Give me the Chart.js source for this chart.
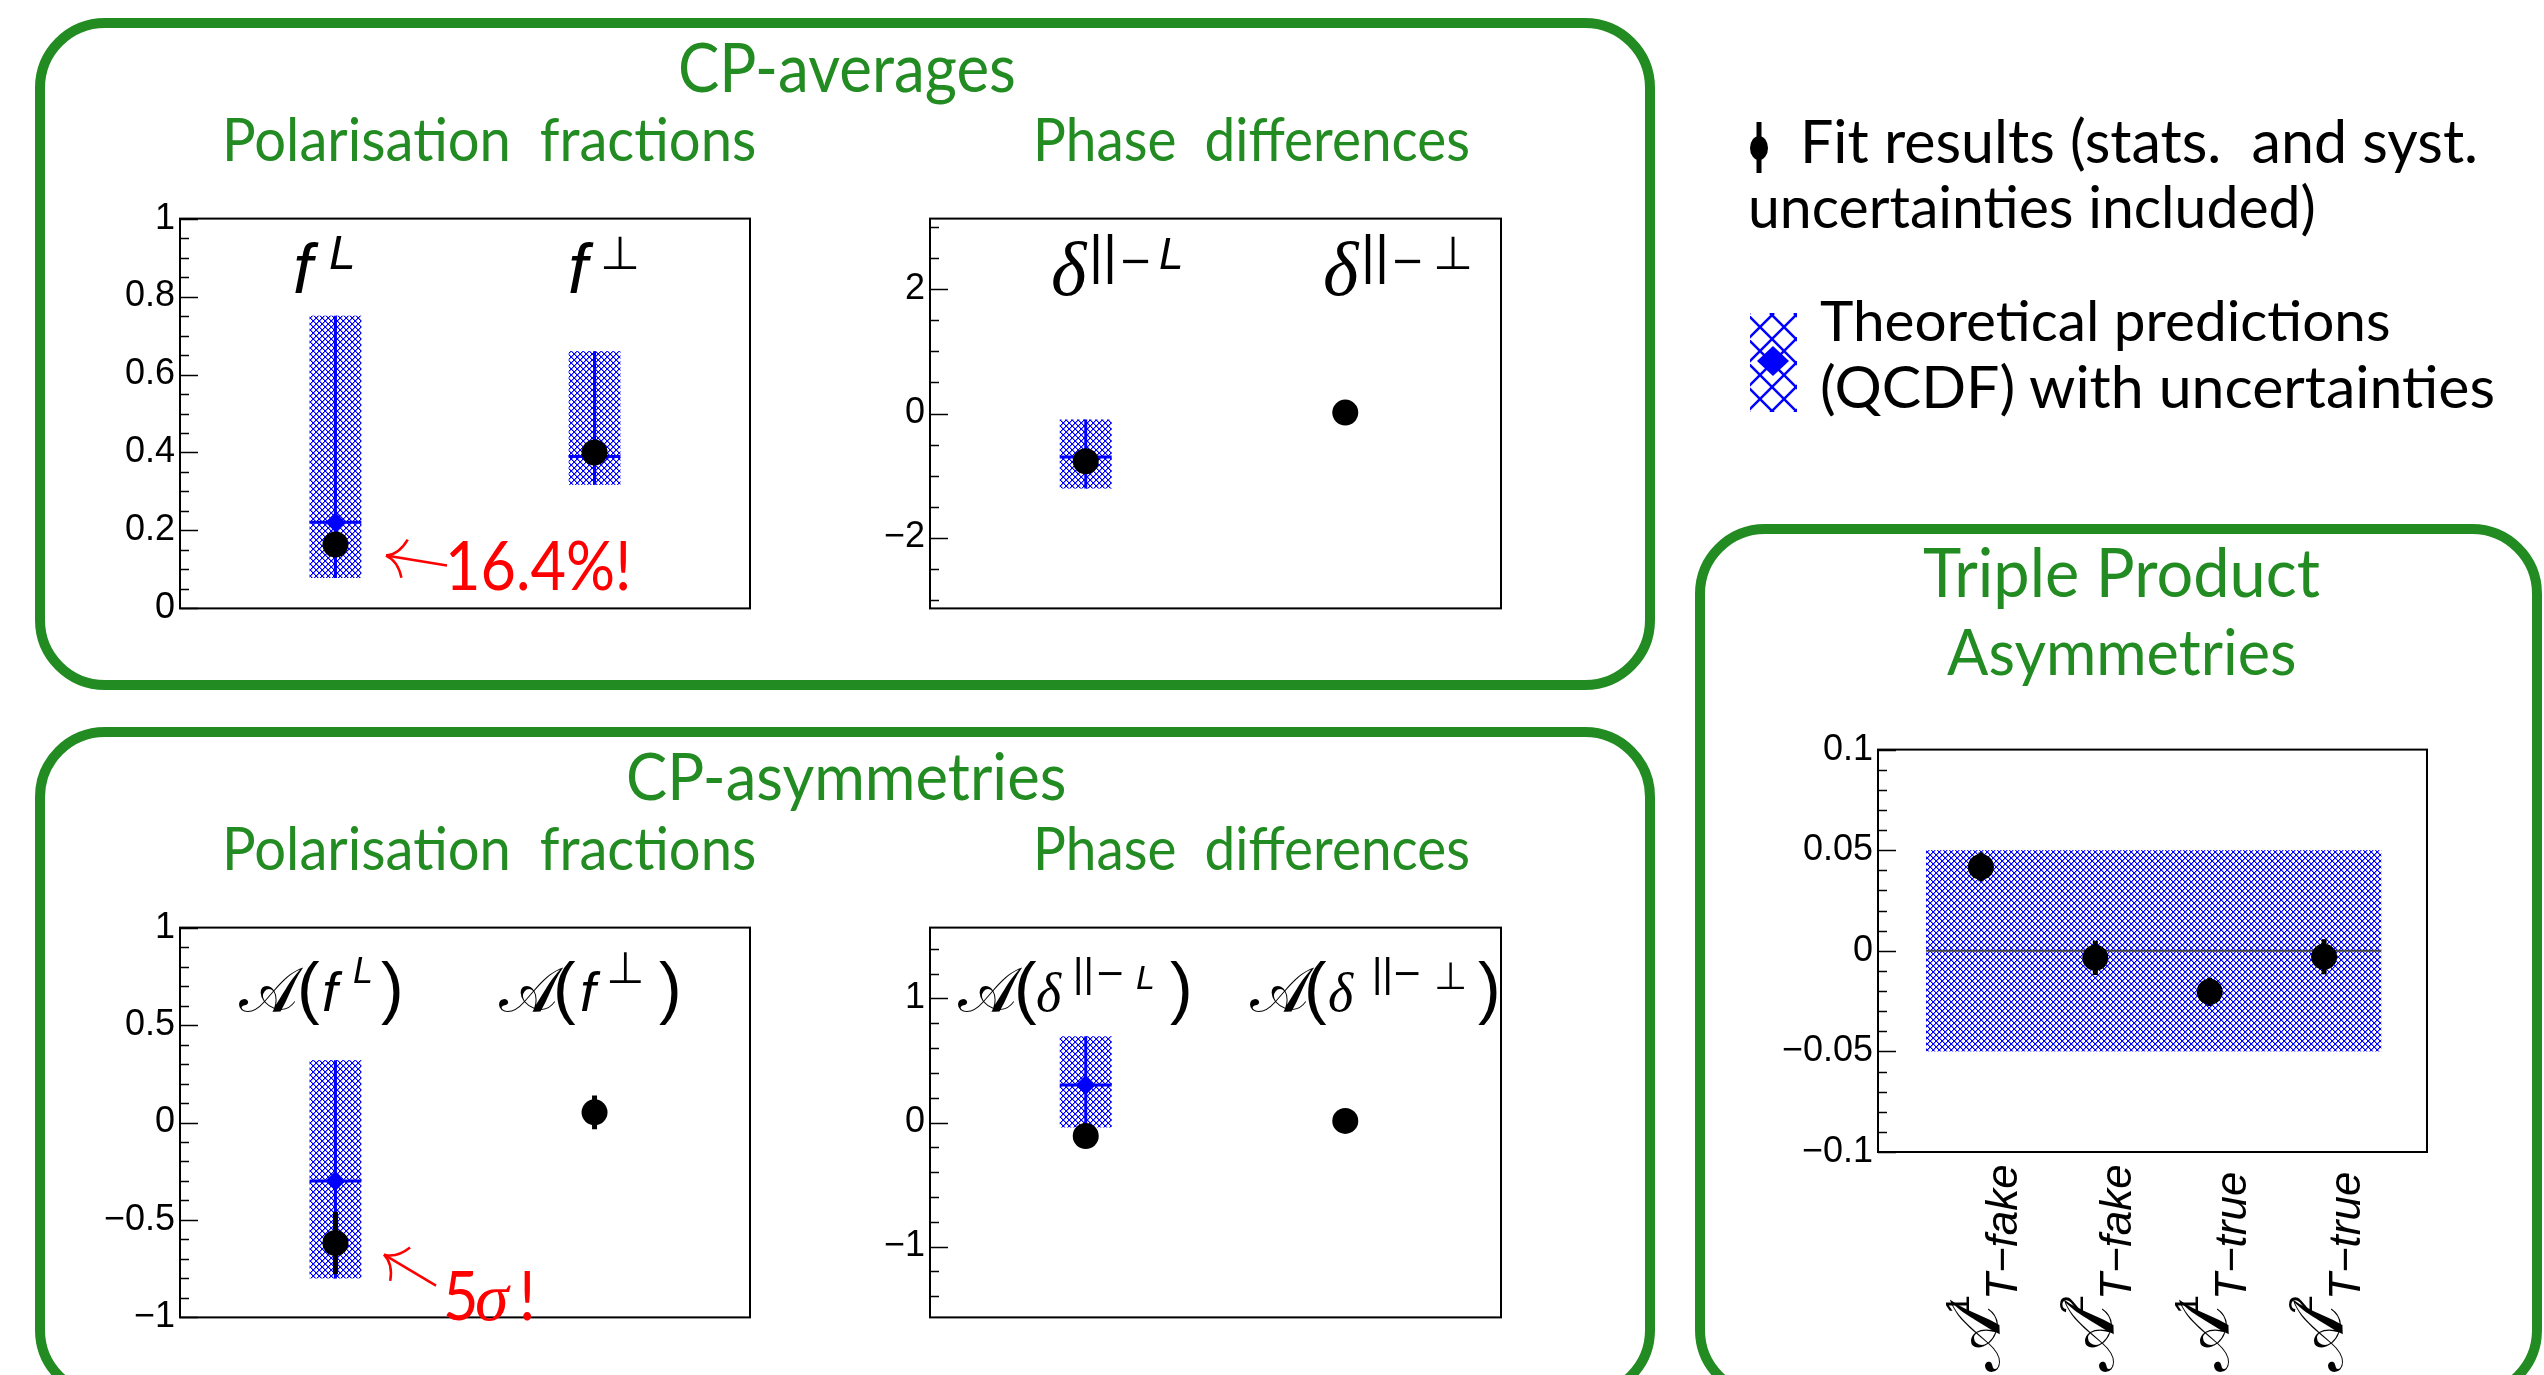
<!DOCTYPE html>
<html>
<head>
<meta charset="utf-8">
<script src="https://cdn.jsdelivr.net/npm/chart.js@4.4.1/dist/chart.umd.min.js"></script>
<style>
  html, body { margin: 0; padding: 0; background: #fff; }
  body { width: 2544px; height: 1375px; position: relative; overflow: hidden; font-family: Lato, sans-serif; }
  .box { position: absolute; border: 10px solid #228b22; border-radius: 70px; box-sizing: border-box; }
  canvas { position: absolute; }
  .t { position: absolute; white-space: pre; line-height: 1.2; transform-origin: 0 0; }
  .g { color: #228b22; }
  .bl { display: inline-block; width: 0; height: 0; vertical-align: baseline; }
</style>
</head>
<body>
<div class="box" style="left:35px;top:18px;width:1620px;height:672px"></div>
<div class="box" style="left:35px;top:727px;width:1620px;height:673px"></div>
<div class="box" style="left:1695px;top:524px;width:847px;height:876px"></div>

<canvas id="avgFrac"></canvas>
<canvas id="avgPhase"></canvas>
<canvas id="asymFrac"></canvas>
<canvas id="asymPhase"></canvas>
<canvas id="tripleProd"></canvas>
<canvas id="legFit" width="30" height="66" style="left:1744px;top:114px"></canvas>
<canvas id="legTh" width="52" height="104" style="left:1748px;top:310px"></canvas>

<script>
const GREEN = '#228b22';
const BLUE = '#0000ff';

// CP-averages: polarisation fractions f^L, f^perp
const avgFracX = [3, 8];
const avgFracFit = [0.164, 0.400];
const avgFracFitErr = [0.025, 0.025];
const avgFracTh = [0.221, 0.390];
const avgFracThLo = [0.078, 0.317];
const avgFracThHi = [0.751, 0.660];
const avgFracTicks = [0, 0.2, 0.4, 0.6, 0.8, 1];

// CP-averages: phase differences
const avgPhaseX = [3, 8];
const avgPhaseFit = [-0.77, 0.015];
const avgPhaseFitErr = [0.15, 0.15];
const avgPhaseTh = [-0.70, null];
const avgPhaseThLo = [-1.21, null];
const avgPhaseThHi = [-0.096, null];
const avgPhaseTicks = [-2, 0, 2];

// CP-asymmetries: polarisation fractions
const asymFracX = [3, 8];
const asymFracFit = [-0.618, 0.052];
const asymFracFitErr = [0.16, 0.087];
const asymFracTh = [-0.30, null];
const asymFracThLo = [-0.80, null];
const asymFracThHi = [0.32, null];
const asymFracTicks = [-1, -0.5, 0, 0.5, 1];

// CP-asymmetries: phase differences
const asymPhaseX = [3, 8];
const asymPhaseFit = [-0.109, 0.013];
const asymPhaseFitErr = [0.03, 0.03];
const asymPhaseTh = [0.302, null];
const asymPhaseThLo = [-0.04, null];
const asymPhaseThHi = [0.695, null];
const asymPhaseTicks = [-1, 0, 1];

// triple product asymmetries
const tpX = [0, 1, 2, 3];
const tpSup = ['1', '2', '1', '2'];
const tpSub = ['T\u2212fake', 'T\u2212fake', 'T\u2212true', 'T\u2212true'];
const tpFit = [0.0417, -0.0035, -0.0204, -0.0030];
const tpFitErr = [0.0071, 0.0085, 0.0070, 0.0087];
const tpTheory = { lo: -0.05, hi: 0.05, mid: 0 };
const tpTicks = [-0.1, -0.05, 0, 0.05, 0.1];

// fonts for the in-plot math
const MI = s => `italic ${s}px "Liberation Sans"`;
const RM = s => `${s}px "Liberation Sans"`;
const GK = s => `italic ${s}px "Liberation Serif"`;
const SYM = s => `${s}px "DejaVu Sans"`;
const CAL = s => `${s}px "DejaVu Serif"`;
const LAT = s => `${s}px Lato`;
const CALA = '\u{1D49C}';
const MINUS = '\u2212';

// ROOT-like cross hatch
const tile = document.createElement('canvas');
tile.width = tile.height = 6;
(() => {
  const c = tile.getContext('2d');
  c.fillStyle = BLUE;
  for (let i = 0; i < 6; i++) { c.fillRect(i, i, 1, 1); c.fillRect(5 - i, i, 1, 1); }
  c.fillStyle = 'rgba(0,0,255,0.45)';
  for (let i = 0; i < 6; i++) { c.fillRect((i + 1) % 6, i, 1, 1); c.fillRect((6 - i) % 6, i, 1, 1); }
})();

const fmt = v => (v < 0 ? MINUS : '') + String(+Math.abs(v).toFixed(3));

function rich(ctx, parts, x0, y0, color) {
  ctx.fillStyle = color || '#000';
  ctx.textAlign = 'left';
  ctx.textBaseline = 'alphabetic';
  parts.forEach(p => {
    ctx.font = p.f;
    ctx.save();
    ctx.translate(x0 + p.x, y0 + (p.dy || 0));
    ctx.scale(p.sx || 1, 1);
    ctx.fillText(p.t, 0, 0);
    ctx.restore();
  });
}

function line(ctx, x0, y0, x1, y1) {
  ctx.beginPath(); ctx.moveTo(x0, y0); ctx.lineTo(x1, y1); ctx.stroke();
}

function arrow(ctx, tip, tail) {
  const dx = tail[0] - tip[0], dy = tail[1] - tip[1];
  const len = Math.hypot(dx, dy), ux = dx / len, uy = dy / len;
  ctx.strokeStyle = '#ff0000';
  ctx.lineWidth = 2.5;
  line(ctx, tip[0], tip[1], tail[0], tail[1]);
  [1, -1].forEach(s => {
    const a = s * 0.8, b = s * 0.25;
    const ex = tip[0] + 27 * (ux * Math.cos(a) - uy * Math.sin(a));
    const ey = tip[1] + 27 * (ux * Math.sin(a) + uy * Math.cos(a));
    const cx = tip[0] + 13 * (ux * Math.cos(b) - uy * Math.sin(b));
    const cy = tip[1] + 13 * (ux * Math.sin(b) + uy * Math.cos(b));
    ctx.beginPath(); ctx.moveTo(tip[0], tip[1]); ctx.quadraticCurveTo(cx, cy, ex, ey); ctx.stroke();
  });
}

function rootStyle(o) {
  return {
    id: 'rootStyle',
    beforeDatasetsDraw(chart) {
      const { ctx, chartArea: a, scales: { x, y } } = chart;
      ctx.save();
      ctx.beginPath(); ctx.rect(a.left, a.top, a.right - a.left, a.bottom - a.top); ctx.clip();
      o.boxes.forEach(b => {
        const x0 = x.getPixelForValue(b.x0), x1 = x.getPixelForValue(b.x1);
        const y0 = y.getPixelForValue(b.hi), y1 = y.getPixelForValue(b.lo);
        ctx.fillStyle = ctx.createPattern(tile, 'repeat');
        ctx.fillRect(x0, y0, x1 - x0, y1 - y0);
        ctx.strokeStyle = b.lineColor;
        ctx.lineWidth = b.lineWidth;
        const ym = y.getPixelForValue(b.mid);
        line(ctx, x0, ym, x1, ym);
        if (b.xc != null) {
          const xc = x.getPixelForValue(b.xc);
          line(ctx, xc, y0, xc, y1);
        }
      });
      ctx.strokeStyle = '#000';
      ctx.lineWidth = 5;
      o.x.forEach((v, i) => {
        const xc = x.getPixelForValue(v);
        line(ctx, xc, y.getPixelForValue(o.fit[i] + o.err[i]), xc, y.getPixelForValue(o.fit[i] - o.err[i]));
      });
      ctx.restore();
    },
    afterDraw(chart) {
      const { ctx, chartArea: a, scales: { x, y } } = chart;
      ctx.save();
      ctx.strokeStyle = '#000';
      ctx.lineWidth = 2;
      ctx.strokeRect(a.left, a.top, a.right - a.left, a.bottom - a.top);
      ctx.lineWidth = 1.5;
      const st = o.minor;
      for (let k = Math.ceil(o.yr[0] / st - 1e-6); k * st <= o.yr[1] + 1e-9; k++) {
        const v = k * st;
        const major = o.ticks.some(t => Math.abs(t - v) < 1e-6);
        const py = Math.round(y.getPixelForValue(v)) + 0.5;
        line(ctx, a.left, py, a.left + (major ? 18 : 9), py);
      }
      (o.labels || []).forEach(l => rich(ctx, l.parts, a.left + l.x, a.top + l.y));
      (o.notes || []).forEach(n => {
        rich(ctx, n.parts, a.left + n.x, a.top + n.y, '#ff0000');
        arrow(ctx, [a.left + n.tip[0], a.top + n.tip[1]], [a.left + n.tail[0], a.top + n.tail[1]]);
      });
      if (o.xLabels) {
        o.x.forEach((v, i) => {
          ctx.save();
          ctx.translate(x.getPixelForValue(v), a.bottom + 220);
          ctx.rotate(-Math.PI / 2);
          rich(ctx, [
            { t: CALA, f: CAL(70), x: 0 },
            { t: o.xLabels.sup[i], f: RM(34), x: 58, dy: -30 },
            { t: o.xLabels.sub[i], f: MI(44), x: 72, dy: 18 }
          ], 0, 18);
          ctx.restore();
        });
      }
      ctx.restore();
    }
  };
}

function panel(id, o) {
  const cv = document.getElementById(id);
  const axisW = 110, padT = 24, padR = 4, padB = o.padB || 24;
  const W = o.frame[2] - o.frame[0], H = o.frame[3] - o.frame[1];
  cv.width = axisW + W + padR;
  cv.height = padT + H + padB;
  cv.style.left = (o.frame[0] - axisW) + 'px';
  cv.style.top = (o.frame[1] - padT) + 'px';
  o.err = o.err || o.x.map(() => 0);
  return new Chart(cv, {
    type: 'scatter',
    data: {
      datasets: [
        {
          data: o.x.map((x, i) => ({ x, y: o.fit[i] })),
          pointRadius: o.r || 13, pointBackgroundColor: '#000', pointBorderWidth: 0, order: 0
        },
        {
          data: o.x.map((x, i) => ({ x, y: o.th ? o.th[i] : null })).filter(p => p.y != null),
          pointStyle: 'rectRot', pointRadius: 10, pointBackgroundColor: BLUE, pointBorderWidth: 0, order: 1
        }
      ]
    },
    options: {
      responsive: false, animation: false, devicePixelRatio: 1,
      layout: { padding: { top: padT, right: padR, bottom: padB, left: 0 } },
      plugins: { legend: { display: false }, tooltip: { enabled: false } },
      scales: {
        x: { type: 'linear', display: false, min: o.xr[0], max: o.xr[1] },
        y: {
          min: o.yr[0], max: o.yr[1],
          afterFit: s => { s.width = axisW; },
          afterBuildTicks: s => { s.ticks = o.ticks.map(v => ({ value: v })); },
          grid: { display: false, drawTicks: false },
          border: { display: false },
          ticks: { padding: 5, color: '#000', font: { family: 'Liberation Sans', size: 36 }, callback: v => fmt(v) }
        }
      }
    },
    plugins: [rootStyle(o)]
  });
}

const pointBoxes = (xs, th, lo, hi) => xs.map((v, i) => th[i] == null ? null : ({
  x0: v - 0.5, x1: v + 0.5, xc: v, lo: lo[i], hi: hi[i], mid: th[i], lineColor: BLUE, lineWidth: 3
})).filter(b => b);

panel('avgFrac', {
  frame: [180, 216, 759, 611], xr: [0, 11], yr: [0, 1], ticks: avgFracTicks, minor: 0.05,
  x: avgFracX, fit: avgFracFit, err: avgFracFitErr, th: avgFracTh,
  boxes: pointBoxes(avgFracX, avgFracTh, avgFracThLo, avgFracThHi),
  labels: [
    { x: 113, y: 74, parts: [{ t: 'f', f: MI(70), x: 0 }, { t: 'L', f: MI(48), x: 36, dy: -24 }] },
    { x: 388, y: 74, parts: [{ t: 'f', f: MI(70), x: 0 }, { t: '\u22A5', f: SYM(46), x: 32, dy: -24 }] }
  ],
  notes: [{ x: 265, y: 371, parts: [{ t: '16.4%!', f: LAT(68), x: 0, sx: 0.9 }], tip: [206, 337], tail: [267, 347] }]
});

panel('avgPhase', {
  frame: [930, 216, 1510, 611], xr: [0, 11], yr: [-Math.PI, Math.PI], ticks: avgPhaseTicks, minor: 0.5,
  x: avgPhaseX, fit: avgPhaseFit, err: avgPhaseFitErr, th: avgPhaseTh,
  boxes: pointBoxes(avgPhaseX, avgPhaseTh, avgPhaseThLo, avgPhaseThHi),
  labels: [
    { x: 121, y: 76, parts: [{ t: '\u03B4', f: GK(76), x: 0 }, { t: '||', f: RM(54), x: 38, dy: -22 },
      { t: MINUS, f: SYM(40), x: 68, dy: -21 }, { t: 'L', f: MI(44), x: 108, dy: -26 }] },
    { x: 393, y: 76, parts: [{ t: '\u03B4', f: GK(76), x: 0 }, { t: '||', f: RM(54), x: 38, dy: -22 },
      { t: MINUS, f: SYM(40), x: 68, dy: -21 }, { t: '\u22A5', f: SYM(46), x: 110, dy: -26 }] }
  ]
});

panel('asymFrac', {
  frame: [180, 925, 759, 1320], xr: [0, 11], yr: [-1, 1], ticks: asymFracTicks, minor: 0.1,
  x: asymFracX, fit: asymFracFit, err: asymFracFitErr, th: asymFracTh,
  boxes: pointBoxes(asymFracX, asymFracTh, asymFracThLo, asymFracThHi),
  labels: [
    { x: 59, y: 83, parts: [{ t: CALA, f: CAL(62), x: 0 }, { t: '(', f: RM(68), x: 58 }, { t: 'f', f: MI(56), x: 83 },
      { t: 'L', f: MI(36), x: 114, dy: -28 }, { t: ')', f: RM(68), x: 142 }] },
    { x: 319, y: 83, parts: [{ t: CALA, f: CAL(62), x: 0 }, { t: '(', f: RM(68), x: 54 }, { t: 'f', f: MI(56), x: 81 },
      { t: '\u22A5', f: SYM(44), x: 107, dy: -28 }, { t: ')', f: RM(68), x: 160 }] }
  ],
  notes: [{ x: 263, y: 392, parts: [{ t: '5', f: LAT(68), x: 0, sx: 0.9 }, { t: '\u03C3', f: GK(68), x: 32 }, { t: '!', f: LAT(68), x: 76, sx: 0.9 }],
    tip: [204, 327], tail: [256, 358] }]
});

panel('asymPhase', {
  frame: [930, 925, 1510, 1320], xr: [0, 11], yr: [-Math.PI / 2, Math.PI / 2], ticks: asymPhaseTicks, minor: 0.2,
  x: asymPhaseX, fit: asymPhaseFit, err: asymPhaseFitErr, th: asymPhaseTh,
  boxes: pointBoxes(asymPhaseX, asymPhaseTh, asymPhaseThLo, asymPhaseThHi),
  labels: [
    { x: 28, y: 83, parts: [{ t: CALA, f: CAL(62), x: 0 }, { t: '(', f: RM(68), x: 56 }, { t: '\u03B4', f: GK(54), x: 78 },
      { t: '||', f: RM(40), x: 115, dy: -24 }, { t: MINUS, f: SYM(36), x: 137, dy: -26 }, { t: 'L', f: MI(34), x: 178, dy: -22 },
      { t: ')', f: RM(68), x: 212 }] },
    { x: 320, y: 83, parts: [{ t: CALA, f: CAL(62), x: 0 }, { t: '(', f: RM(68), x: 54 }, { t: '\u03B4', f: GK(54), x: 78 },
      { t: '||', f: RM(40), x: 122, dy: -24 }, { t: MINUS, f: SYM(36), x: 142, dy: -26 }, { t: '\u22A5', f: SYM(38), x: 184, dy: -22 },
      { t: ')', f: RM(68), x: 228 }] }
  ]
});

panel('tripleProd', {
  frame: [1878, 747, 2436, 1152], padB: 223, xr: [-0.9, 3.9], yr: [-0.1, 0.1], ticks: tpTicks, minor: 0.01,
  x: tpX, fit: tpFit, err: tpFitErr, r: 13,
  boxes: [{ x0: -0.48, x1: 3.5, lo: tpTheory.lo, hi: tpTheory.hi, mid: tpTheory.mid, lineColor: '#444', lineWidth: 2 }],
  xLabels: { sup: tpSup, sub: tpSub }
});

// legend keys
(() => {
  const c = document.getElementById('legFit').getContext('2d');
  c.strokeStyle = '#000'; c.lineWidth = 5;
  line(c, 15, 8, 15, 59);
  c.fillStyle = '#000'; c.beginPath(); c.ellipse(15, 34, 9, 12, 0, 0, 2 * Math.PI); c.fill();
  const t = document.getElementById('legTh').getContext('2d');
  t.save();
  t.beginPath(); t.rect(2, 3, 47, 99); t.clip();
  t.strokeStyle = BLUE; t.lineWidth = 2.5;
  for (let k = -6; k < 8; k++) {
    line(t, k * 24 - 2, 3, k * 24 + 100, 105);
    line(t, k * 24 + 50, 3, k * 24 - 52, 105);
  }
  t.restore();
  t.fillStyle = BLUE;
  t.beginPath(); t.moveTo(25, 36); t.lineTo(41, 51); t.lineTo(25, 66); t.lineTo(9, 51); t.closePath(); t.fill();
})();

// page text: size from the width, then stretched taller by k and squeezed back
function place(html, cls, x, base, align, fitW, k) {
  k = k || 1;
  const d = document.createElement('div');
  d.className = 't ' + cls;
  d.style.fontSize = '50px';
  d.innerHTML = html + '<span class="bl"></span>';
  document.body.appendChild(d);
  d.style.fontSize = (50 * k * fitW / d.offsetWidth) + 'px';
  const bl = d.querySelector('.bl').offsetTop;
  d.style.transform = `scaleX(${1 / k})`;
  d.style.left = (align === 'center' ? x - fitW / 2 : x) + 'px';
  d.style.top = (base - bl) + 'px';
}

place('CP-averages', 'g', 847, 92, 'center', 338, 1.08);
place('Polarisation  fractions', 'g', 222, 161, 'left', 534, 1.08);
place('Phase  differences', 'g', 1033, 161, 'left', 437, 1.08);
place('CP-asymmetries', 'g', 846, 800, 'center', 440, 1.08);
place('Polarisation  fractions', 'g', 222, 870, 'left', 534, 1.08);
place('Phase  differences', 'g', 1033, 870, 'left', 437, 1.08);
place('Triple Product', 'g', 2121, 597, 'center', 397, 1.05);
place('Asymmetries', 'g', 2121, 675, 'center', 349, 1.05);

place('Fit results (stats.  and syst.', '', 1800, 163, 'left', 678);
place('uncertainties included)', '', 1748, 228, 'left', 568);
place('Theoretical predictions', '', 1820, 341, 'left', 570);
place('(QCDF) with uncertainties', '', 1820, 408, 'left', 675);
</script>
</body>
</html>
